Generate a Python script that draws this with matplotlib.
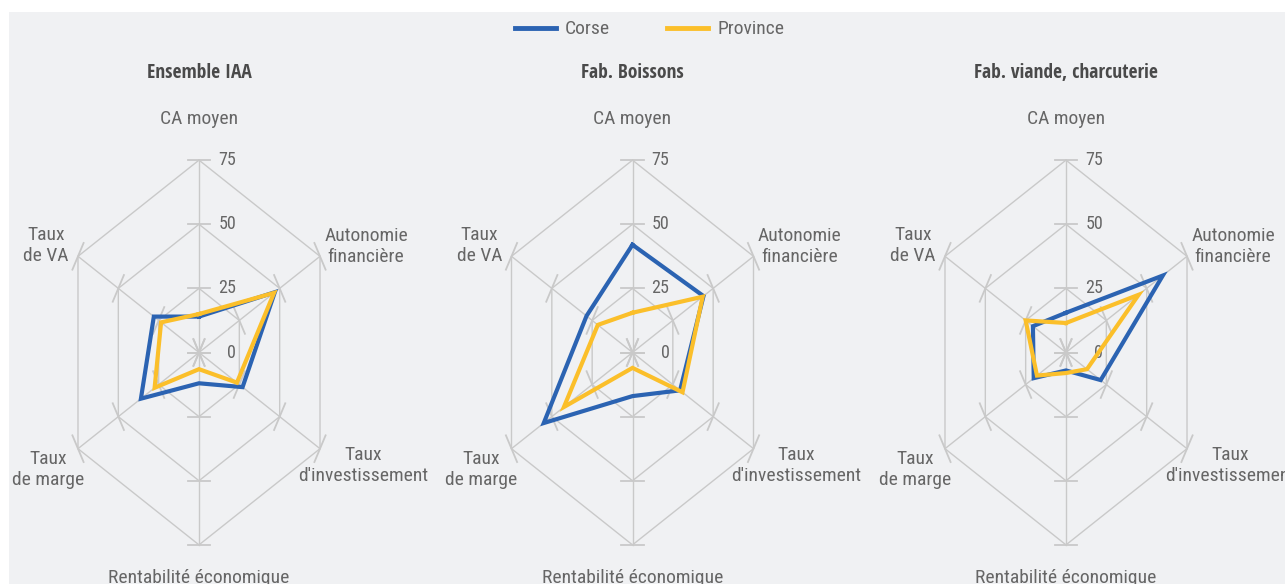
import numpy as np
import matplotlib.pyplot as plt
from matplotlib.lines import Line2D
from matplotlib.patches import Rectangle

# categories (clockwise from the top)
criteres = ["CA moyen", "Autonomie\nfinancière", "Taux\nd'investissement",
            "Rentabilité économique", "Taux\nde marge", "Taux\nde VA"]
titres = ["Ensemble IAA", "Fab. Boissons", "Fab. viande, charcuterie"]
graduations = [0, 25, 50, 75]

# values
corse_iaa = [14, 47, 27, 12, 36, 28]
province_iaa = [15, 46.5, 23.5, 6.5, 27.5, 23.5]
corse_boissons = [42, 44, 29.5, 17, 55, 28.5]
province_boissons = [15.5, 43.5, 31, 6, 42.5, 21.5]
corse_viande = [15.5, 60, 21.5, 7, 20, 20.5]
province_viande = [11.5, 45, 13, 8, 18, 25]

corse = [corse_iaa, corse_boissons, corse_viande]
province = [province_iaa, province_boissons, province_viande]

BLEU = "#2b63b2"
JAUNE = "#fbbf2a"
GRILLE = "#c9c9c9"
TEXTE = "#666666"
FOND = "#f0f1f3"
police = ["Roboto Condensed", "Open Sans Condensed", "Open Sans"]
police_titre = ["Open Sans Condensed", "Roboto Condensed", "Open Sans"]
etroit = "condensed"

W, H = 1285, 584
XS, YS = 1.863, 2.565      # px per unit, horizontal / vertical (chart is squeezed)
CY = 352.5
centres = [199, 632.5, 1066]

# label offsets from the centre, in px (dx right, dy down)
decalages = [(0, -234), (167, -106), (164, 113), (0, 230.5), (-151, 117), (-153, -107)]

fig = plt.figure(figsize=(W / 100, H / 100), dpi=100, facecolor="white")
fig.patches.append(Rectangle((9 / W, 0), 1, (H - 12) / H, transform=fig.transFigure,
                             facecolor=FOND, edgecolor="none", zorder=-10))

ang = np.deg2rad(np.arange(len(criteres)) * 60)


def polaire(r):
    r = np.asarray(r, dtype=float)
    x = r * np.sin(ang)
    y = r * np.cos(ang)
    return np.append(x, x[0]), np.append(y, y[0])


for i, cx in enumerate(centres):
    ax = fig.add_axes([(cx - 215) / W, 0, 430 / W, 1])
    ax.set_xlim(-215 / XS, 215 / XS)
    ax.set_ylim(-(H - CY) / YS, CY / YS)
    ax.axis("off")

    # hexagonal grid
    for r in graduations[1:]:
        x, y = polaire([r] * 6)
        ax.plot(x, y, color=GRILLE, lw=1, zorder=1)
    rmax = graduations[-1]
    for a in ang:
        ax.plot([0, rmax * np.sin(a)], [0, rmax * np.cos(a)], color=GRILLE, lw=1, zorder=1)
        # small ticks, perpendicular to each spoke
        for r in graduations:
            px, py = r * np.sin(a), r * np.cos(a)
            ux, uy = np.cos(a), -np.sin(a)
            ax.plot([px - 6 * ux, px + 6 * ux], [py - 6 * uy, py + 6 * uy],
                    color=GRILLE, lw=1.3, zorder=1)

    for r in graduations:
        ax.text(37 / XS, r, str(r), ha="right", va="center", fontsize=13,
                color=TEXTE, family=police, fontstretch=etroit)

    x, y = polaire(corse[i])
    ax.plot(x, y, color=BLEU, lw=3, solid_joinstyle="miter", zorder=3)
    x, y = polaire(province[i])
    ax.plot(x, y, color=JAUNE, lw=3, solid_joinstyle="miter", zorder=4)

    for lab, (dx, dy) in zip(criteres, decalages):
        va = "baseline" if "\n" not in lab and dy > 0 else "center"
        ax.text(dx / XS, -dy / YS, lab, ha="center", va=va, multialignment="center",
                fontsize=14, color=TEXTE, family=police, fontstretch=etroit,
                linespacing=1.15)

    ax.text(0, (CY - 73) / YS, titres[i], ha="center", va="center", fontsize=14,
            fontweight="bold", color="#4a4a4a", family=police_titre, fontstretch=etroit)

poignees = [Line2D([], [], color=BLEU, lw=3.5), Line2D([], [], color=JAUNE, lw=3.5)]
fig.legend(poignees, ["Corse", "Province"], loc="center",
           bbox_to_anchor=(649.5 / W, 1 - 29.5 / H), ncol=2, frameon=False,
           prop={"family": police, "size": 14, "stretch": etroit}, labelcolor=TEXTE,
           handlelength=2.1, handletextpad=0.5, columnspacing=2.9)

fig.savefig("out.png", dpi=100, facecolor=fig.get_facecolor())
